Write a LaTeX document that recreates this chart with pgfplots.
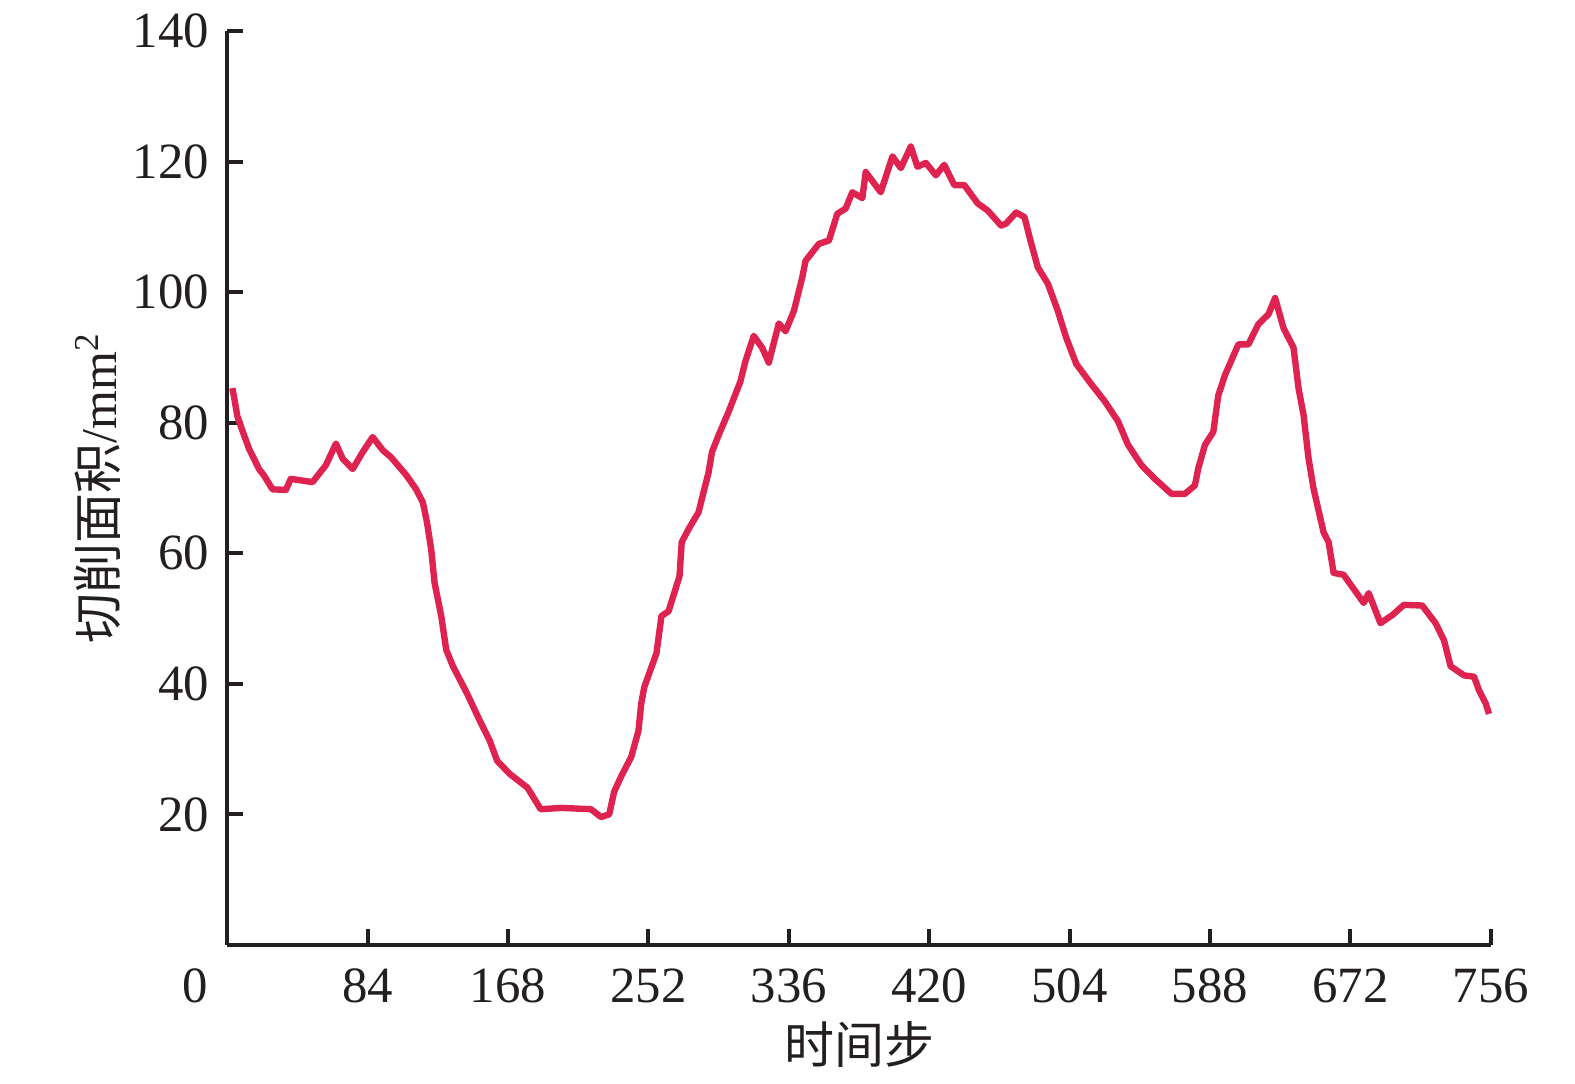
\documentclass[border=0pt]{standalone}
\usepackage{pgfplots}
\pgfplotsset{compat=1.18}
\usepackage{fontspec}
\setmainfont{Liberation Serif}
\newfontfamily\cjk{Noto Sans CJK SC}
\definecolor{curve}{RGB}{222,35,80}
\definecolor{ink}{RGB}{35,31,32}
\begin{document}
\begin{tikzpicture}
\useasboundingbox (-56.83pt,-34.5pt) rectangle (336.92pt,236.25pt);
\begin{axis}[
  scale only axis,
  width=315.85pt, height=228.5pt,
  xmin=0, xmax=756, ymin=0, ymax=140,
  axis x line=bottom, axis y line=left,
  axis line style={-, line width=1pt, ink},
  every tick/.style={line width=1pt, ink},
  major tick length=4pt,
  tick align=inside,
  xtick={0,84,168,252,336,420,504,588,672,756},
  xticklabels={\llap{0\kern4.8pt},84,168,252,336,420,504,588,672,756},
  ytick={20,40,60,80,100,120,140},
  /pgf/number format/assume math mode=true,
  tick label style={font=\fontsize{12.7}{15}\selectfont, text=ink},
  xticklabel style={yshift=-2.5pt},
  yticklabel style={xshift=-1pt},
  xlabel={{\cjk 时间步}},
  ylabel={{\cjk 切削面积}/mm\textsuperscript{2}},
  label style={font=\fontsize{12.5}{15}\selectfont, text=ink},
  xlabel style={at={(axis description cs:0.5,-0.109)}, anchor=center},
  ylabel style={at={(axis description cs:-0.103,0.5)}, anchor=center},
  clip=false,
]
\addplot[curve, line width=1.6pt, line join=round] coordinates {
(3,85.3) (4,84) (6,81) (9,78.8) (13,76) (19,72.9) (22,71.9) (27,69.8)
(35,69.7) (38,71.4) (51,70.9) (59,73.5) (65,76.8) (69,74.5) (75,72.9)
(81,75.5) (87,77.8) (93,75.8) (98,74.7) (107,72) (113,69.8) (117,67.8)
(119.5,64.7) (122,60.6) (124,55.5) (128,50.4) (131,45.2) (135,42.7)
(143.5,38.5) (151,34.4) (157,31.3) (161.5,28.2) (169,26.2) (179.6,24.1)
(187.5,20.8) (200,21) (217.6,20.8) (223.6,19.6) (228.5,20) (231.5,23.5)
(236,26) (241.7,28.8) (246,32.8) (247.7,37) (249.5,39.5) (256.8,44.7)
(259.8,50.4) (264,51.1) (270.6,56.5) (271.9,61.7) (276,63.7) (282,66.3)
(285,69.4) (288,72.4) (290,75.5) (294,78.1) (300,81.7) (307,86.3)
(310,89.4) (315,93.3) (320,91.5) (324,89.2) (330,95.2) (334,94)
(339,97.1) (344,102.2) (346,104.8) (354,107.4) (360,107.9) (365,112)
(370,112.8) (374,115.3) (380,114.4) (382,118.4) (391,115.3) (398,120.8)
(403,119) (409,122.3) (413,119.2) (418,119.8) (424,117.9) (429,119.5)
(435,116.4) (441,116.4) (449,113.6) (455,112.5) (463,110.2) (466,110.5)
(472,112.2) (477,111.5) (481,107.5) (485,103.8) (491,101.3) (497,97.1)
(502,93) (508,89) (517,85.9) (525,83.3) (533,80.2) (539,76.6) (547,73.5)
(555,71.4) (565,69.1) (573,69.1) (579,70.4) (581,73) (585,76.6)
(590,78.6) (593,84.2) (597,87.3) (605,92) (611,92) (617,95.1) (623,96.6)
(627,99.1) (632,94.5) (638,91.5) (641,85.3) (644,81.2) (647,74.5)
(650,69.9) (656,63.2) (659,61.7) (662,57) (668,56.7) (680,52.4)
(683,53.9) (690,49.3) (697,50.5) (704,52.1) (715,52) (723,49.3)
(728,46.7) (732,42.7) (740,41.3) (746,41.1) (749,39) (753,37) (755,35.4)
};
\end{axis}
\end{tikzpicture}
\end{document}
